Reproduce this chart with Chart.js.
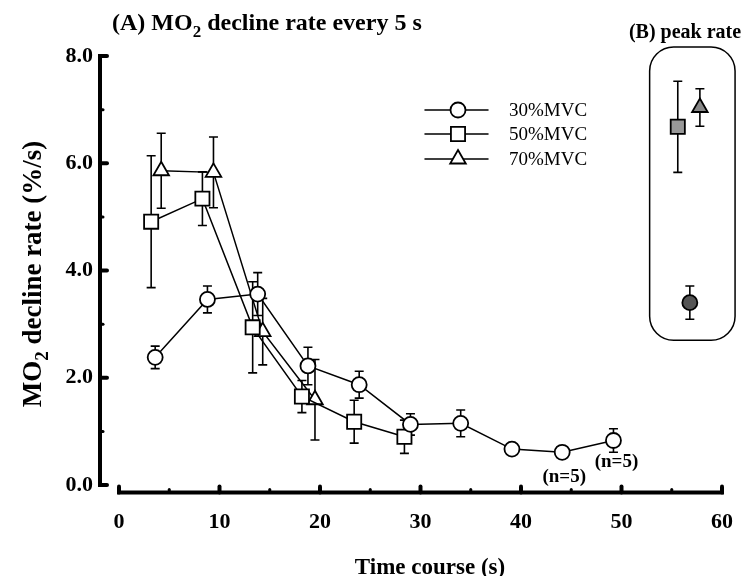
<!DOCTYPE html>
<html>
<head>
<meta charset="utf-8">
<script src="https://cdn.jsdelivr.net/npm/chart.js@4.4.1/dist/chart.umd.min.js"></script>
<style>
  html, body { margin: 0; padding: 0; background: #fff; }
  #wrap { width: 744px; height: 576px; }
</style>
</head>
<body>
<div id="wrap"><canvas id="chart" width="744" height="576"></canvas></div>
<script>
const seriesNames = ['30%MVC', '50%MVC', '70%MVC'];

const time30 = [3.6, 8.8, 13.8, 18.8, 23.9, 29.0, 34.0, 39.1, 44.1, 49.2];
const rate30 = [2.38, 3.46, 3.56, 2.22, 1.87, 1.13, 1.15, 0.67, 0.61, 0.83];
const err30  = [0.21, 0.25, 0.40, 0.35, 0.25, 0.20, 0.25, 0.08, 0.08, 0.22];

const time50 = [3.2, 8.3, 13.3, 18.2, 23.4, 28.4];
const rate50 = [4.91, 5.34, 2.94, 1.65, 1.18, 0.90];
const err50  = [1.23, 0.50, 0.85, 0.30, 0.40, 0.31];

const time70 = [4.2, 9.4, 14.3, 19.5];
const rate70 = [5.86, 5.83, 2.86, 1.59];
const err70  = [0.70, 0.66, 0.62, 0.75];

// (B) peak rate - 30, 50, 70 %MVC, put at the right end of the same axes
const peakTime = [56.8, 55.6, 57.8];
const peakRate = [3.40, 6.68, 7.04];
const peakErr  = [0.31, 0.85, 0.35];

const xTickLabels = ['0', '10', '20', '30', '40', '50', '60'];
const yTickLabels = ['0.0', '2.0', '4.0', '6.0', '8.0'];
const nLabelIdx = [8, 9]; // 30%MVC points with only n=5

const serif = "'Liberation Serif', 'Times New Roman', serif";
const toPts = (xs, ys) => xs.map((x, i) => ({ x: x, y: ys[i] }));

function lineSet(label, xs, ys, errs, style, radius) {
  return {
    label: label,
    data: toPts(xs, ys),
    errors: errs,
    showLine: true,
    borderColor: '#000',
    borderWidth: 1.5,
    pointStyle: style,
    pointRadius: radius,
    pointHoverRadius: radius,
    pointBorderWidth: 1.8,
    pointBorderColor: '#000',
    pointBackgroundColor: '#fff'
  };
}

function peakSet(i, style, radius, fill) {
  return {
    label: 'peak ' + seriesNames[i],
    data: [{ x: peakTime[i], y: peakRate[i] }],
    errors: [peakErr[i]],
    showLine: false,
    pointStyle: style,
    pointRadius: radius,
    pointHoverRadius: radius,
    pointBorderWidth: 1.8,
    pointBorderColor: '#000',
    pointBackgroundColor: fill
  };
}

const datasets = [
  lineSet(seriesNames[0], time30, rate30, err30, 'circle', 7.5),
  lineSet(seriesNames[1], time50, rate50, err50, 'rect', 10),
  lineSet(seriesNames[2], time70, rate70, err70, 'triangle', 9),
  peakSet(0, 'circle', 7.5, '#555'),
  peakSet(1, 'rect', 10, '#999'),
  peakSet(2, 'triangle', 9, '#888')
];

// text with a subscript part: parts = [[text, size, dy], ...]
function drawParts(ctx, parts, x, y, align) {
  let w = 0;
  parts.forEach(p => { ctx.font = 'bold ' + p[1] + 'px ' + serif; w += ctx.measureText(p[0]).width; });
  let cx = align === 'center' ? x - w / 2 : x;
  ctx.textAlign = 'left';
  ctx.textBaseline = 'alphabetic';
  parts.forEach(p => {
    ctx.font = 'bold ' + p[1] + 'px ' + serif;
    ctx.fillText(p[0], cx, y + p[2]);
    cx += ctx.measureText(p[0]).width;
  });
}

function marker(ctx, style, radius, x, y, fill) {
  ctx.save();
  ctx.fillStyle = fill;
  ctx.strokeStyle = '#000';
  ctx.lineWidth = 1.8;
  Chart.helpers.drawPoint(ctx, { pointStyle: style, rotation: 0, radius: radius, borderWidth: 1.8 }, x, y);
  ctx.restore();
}

const decor = {
  id: 'decor',
  beforeDatasetsDraw(chart) {
    const ctx = chart.ctx, ys = chart.scales.y;
    ctx.save();
    ctx.strokeStyle = '#000';
    ctx.lineWidth = 1.6;
    chart.data.datasets.forEach((ds, d) => {
      const meta = chart.getDatasetMeta(d);
      ds.data.forEach((p, i) => {
        const e = ds.errors[i];
        const x = meta.data[i].x;
        const y1 = ys.getPixelForValue(p.y + e), y2 = ys.getPixelForValue(p.y - e);
        ctx.beginPath();
        ctx.moveTo(x, y1); ctx.lineTo(x, y2);
        ctx.moveTo(x - 4.5, y1); ctx.lineTo(x + 4.5, y1);
        ctx.moveTo(x - 4.5, y2); ctx.lineTo(x + 4.5, y2);
        ctx.stroke();
      });
    });
    ctx.restore();
  },
  afterDraw(chart) {
    const ctx = chart.ctx, xs = chart.scales.x, ys = chart.scales.y;
    ctx.save();
    ctx.strokeStyle = '#000';
    ctx.fillStyle = '#000';

    // detached axes
    const axX = 100, axY = 492.5;
    ctx.lineWidth = 4;
    ctx.lineCap = 'square';
    ctx.beginPath();
    ctx.moveTo(axX, ys.getPixelForValue(8)); ctx.lineTo(axX, ys.getPixelForValue(0));
    ctx.moveTo(xs.getPixelForValue(0), axY); ctx.lineTo(xs.getPixelForValue(60), axY);
    ctx.stroke();
    ctx.lineCap = 'round';
    ys.ticks.forEach(t => {
      const y = ys.getPixelForValue(t.value);
      ctx.lineWidth = t.value % 2 === 0 ? 4 : 3;
      ctx.beginPath();
      ctx.moveTo(axX, y); ctx.lineTo(axX + (t.value % 2 === 0 ? 7 : 3), y);
      ctx.stroke();
    });
    xs.ticks.forEach(t => {
      const x = xs.getPixelForValue(t.value);
      ctx.lineWidth = t.value % 10 === 0 ? 4 : 3;
      ctx.beginPath();
      ctx.moveTo(x, axY); ctx.lineTo(x, axY - (t.value % 10 === 0 ? 6 : 3));
      ctx.stroke();
    });

    // titles
    drawParts(ctx, [['(A) MO', 24, 0], ['2', 17, 7], [' decline rate every 5 s', 24, 0]], 112, 30, 'left');
    drawParts(ctx, [['(B) peak rate', 20, 0]], 685, 38, 'center');
    drawParts(ctx, [['Time course (s)', 23, 0]], 430, 574, 'center');
    ctx.save();
    ctx.translate(41, 274);
    ctx.rotate(-Math.PI / 2);
    drawParts(ctx, [['MO', 27, 0], ['2', 19, 7], [' decline rate (%/s)', 27, 0]], 0, 0, 'center');
    ctx.restore();

    // n=5 notes
    const m0 = chart.getDatasetMeta(0);
    ctx.font = 'bold 19px ' + serif;
    ctx.textAlign = 'center';
    ctx.textBaseline = 'middle';
    ctx.fillText('(n=5)', m0.data[nLabelIdx[0]].x + 2, m0.data[nLabelIdx[0]].y + 25);
    ctx.fillText('(n=5)', m0.data[nLabelIdx[1]].x + 3, m0.data[nLabelIdx[1]].y + 22);

    // panel B rounded box
    ctx.lineWidth = 1.5;
    const bx1 = xs.getPixelForValue(52.8), bx2 = xs.getPixelForValue(61.3);
    const by1 = ys.getPixelForValue(8.17), by2 = ys.getPixelForValue(2.7);
    ctx.beginPath();
    ctx.roundRect(bx1, by1, bx2 - bx1, by2 - by1, 24);
    ctx.stroke();

    // legend
    const styles = [['circle', 7.5], ['rect', 10], ['triangle', 9]];
    ctx.font = '19px ' + serif;
    ctx.textAlign = 'left';
    ctx.textBaseline = 'middle';
    [110, 134, 159].forEach((ly, i) => {
      ctx.lineWidth = 1.5;
      ctx.beginPath();
      ctx.moveTo(425, ly); ctx.lineTo(488, ly);
      ctx.stroke();
      marker(ctx, styles[i][0], styles[i][1], 458, ly, '#fff');
      ctx.fillStyle = '#000';
      ctx.fillText(chart.data.datasets[i].label, 509, ly + 1);
    });
    ctx.restore();
  }
};

const ctx = document.getElementById('chart').getContext('2d');
new Chart(ctx, {
  type: 'scatter',
  data: { datasets: datasets },
  options: {
    responsive: false,
    animation: false,
    layout: { padding: { top: 56, right: 22, left: 0, bottom: 0 } },
    plugins: { legend: { display: false }, tooltip: { enabled: false } },
    scales: {
      x: {
        type: 'linear', min: 0, max: 60,
        grid: { display: false }, border: { display: false },
        afterFit: s => { s.height = 91; s.paddingLeft = 0; s.paddingRight = 0; },
        ticks: {
          stepSize: 5, autoSkip: false, maxRotation: 0, padding: 16, color: '#000',
          font: { family: serif, size: 22, weight: 'bold' },
          callback: v => v % 10 === 0 ? xTickLabels[v / 10] : ''
        }
      },
      y: {
        type: 'linear', min: 0, max: 8,
        grid: { display: false }, border: { display: false },
        afterFit: s => { s.width = 119; s.paddingTop = 0; s.paddingBottom = 0; },
        ticks: {
          stepSize: 1, autoSkip: false, padding: 18, color: '#000',
          font: { family: serif, size: 22, weight: 'bold' },
          callback: v => v % 2 === 0 ? yTickLabels[v / 2] : ''
        }
      }
    }
  },
  plugins: [decor]
});
</script>
</body>
</html>
